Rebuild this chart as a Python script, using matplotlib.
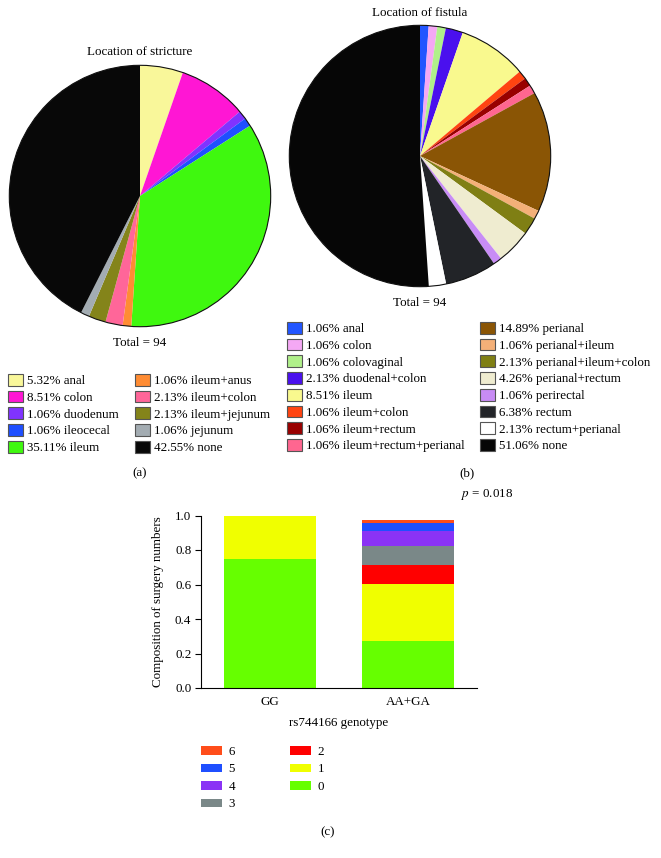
import matplotlib.pyplot as plt
from matplotlib.patches import Patch, Circle

plt.rcParams['font.family'] = ['Liberation Serif', 'DejaVu Serif']
plt.rcParams['mathtext.fontset'] = 'stix'

W, H = 661, 858

# (a) location of stricture
stricture_labels = ['anal', 'colon', 'duodenum', 'ileocecal', 'ileum',
                    'ileum+anus', 'ileum+colon', 'ileum+jejunum', 'jejunum', 'none']
stricture_pct = [5.32, 8.51, 1.06, 1.06, 35.11, 1.06, 2.13, 2.13, 1.06, 42.55]
stricture_colors = ['#f9f79a', '#ff16d4', '#8033ff', '#1f4fff', '#3ff80f',
                    '#ff8c33', '#ff6699', '#84841a', '#a3acb2', '#080808']

# (b) location of fistula
fistula_labels = ['anal', 'colon', 'colovaginal', 'duodenal+colon', 'ileum',
                  'ileum+colon', 'ileum+rectum', 'ileum+rectum+perianal',
                  'perianal', 'perianal+ileum', 'perianal+ileum+colon',
                  'perianal+rectum', 'perirectal', 'rectum', 'rectum+perianal', 'none']
fistula_pct = [1.06, 1.06, 1.06, 2.13, 8.51, 1.06, 1.06, 1.06,
               14.89, 1.06, 2.13, 4.26, 1.06, 6.38, 2.13, 51.06]
fistula_colors = ['#2255ff', '#f4a8f4', '#b0f08a', '#4a10ee', '#f9f98e',
                  '#ff4411', '#990000', '#ff6690', '#8a5505', '#f4b078',
                  '#7f7f14', '#efecd0', '#c88cf5', '#222428', '#ffffff', '#060606']

# (c) surgery numbers by genotype
genotypes = ['GG', 'AA+GA']
surgery_levels = ['0', '1', '2', '3', '4', '5', '6']
surgery_frac = {
    'GG':    [0.75, 0.25, 0.0, 0.0, 0.0, 0.0, 0.0],
    'AA+GA': [0.27, 0.335, 0.11, 0.11, 0.085, 0.048, 0.014],
}
surgery_colors = ['#66ff00', '#f0ff00', '#ff0000', '#7a8888', '#8a33f5', '#1f4fff', '#ff4d1a']


def box(x0, y0, w, h):
    return [x0 / W, 1 - (y0 + h) / H, w / W, h / H]


def ftext(x, y, s, **kw):
    fig.text(x / W, 1 - y / H, s, ha='center', va='center', **kw)


def column_legend(handles, labels, x, y, **kw):
    opts = dict(loc='upper left', bbox_to_anchor=(x / W, 1 - y / H), frameon=False,
                fontsize=9.4, handlelength=1.12, handleheight=1.0, handletextpad=0.3,
                labelspacing=0.26, borderaxespad=0, borderpad=0)
    opts.update(kw)
    return fig.legend(handles, labels, **opts)


fig = plt.figure(figsize=(W / 100, H / 100), dpi=100)


def draw_pie(pos, values, colors):
    ax = fig.add_axes(pos)
    ax.pie(values, colors=colors, startangle=90, counterclock=False,
           wedgeprops=dict(linewidth=0))
    ax.add_patch(Circle((0, 0), 1, fill=False, edgecolor='#111111', linewidth=0.8))
    ax.set_xlim(-1.01, 1.01)
    ax.set_ylim(-1.01, 1.01)
    return ax


draw_pie(box(8, 64, 264, 264), stricture_pct, stricture_colors)
draw_pie(box(288, 24, 264, 264), fistula_pct, fistula_colors)

ftext(140, 52, 'Location of stricture', fontsize=9.4)
ftext(140, 343, 'Total = 94', fontsize=9.4)
ftext(420, 13, 'Location of fistula', fontsize=9.4)
ftext(420, 303, 'Total = 94', fontsize=9.4)

# legends (a)
ha = [Patch(facecolor=c, edgecolor='#555555', linewidth=0.8) for c in stricture_colors]
la = ['%.2f%% %s' % (p, n) for p, n in zip(stricture_pct, stricture_labels)]
column_legend(ha[:5], la[:5], 8, 374)
column_legend(ha[5:], la[5:], 135, 374)
ftext(140, 473, '(a)', fontsize=9.4)

# legends (b)
hb = [Patch(facecolor=c, edgecolor='#555555', linewidth=0.8) for c in fistula_colors]
lb = ['%.2f%% %s' % (p, n) for p, n in zip(fistula_pct, fistula_labels)]
column_legend(hb[:8], lb[:8], 287, 322)
column_legend(hb[8:], lb[8:], 480, 322)
ftext(467, 473, '(b)', fontsize=9.4)

# bar chart (c)
ax = fig.add_axes(box(201, 515.5, 276, 172.5))
xs = range(len(genotypes))
bottoms = [0.0] * len(genotypes)
for i, lvl in enumerate(surgery_levels):
    vals = [surgery_frac[g][i] for g in genotypes]
    ax.bar(xs, vals, width=0.67, bottom=bottoms, color=surgery_colors[i],
           linewidth=0, label=lvl)
    bottoms = [bt + v for bt, v in zip(bottoms, vals)]
ax.set_xlim(-0.5, 1.5)
ax.set_ylim(0, 1.0)
ticks = [0, 0.2, 0.4, 0.6, 0.8, 1.0]
ax.set_yticks(ticks)
ax.set_yticklabels(['%.1f' % t for t in ticks], fontsize=9.4)
ax.set_xticks(list(xs))
ax.set_xticklabels(genotypes, fontsize=9.4)
ax.tick_params(axis='x', length=0, pad=6)
ax.tick_params(axis='y', length=4, width=0.8, pad=3)
for s in ['top', 'right']:
    ax.spines[s].set_visible(False)
for s in ['left', 'bottom']:
    ax.spines[s].set_linewidth(0.8)
ax.set_ylabel('Composition of surgery numbers', fontsize=9.4, labelpad=8)
ax.set_xlabel('rs744166 genotype', fontsize=9.4, labelpad=6)
ftext(487, 495, r'$p$ = 0.018', fontsize=9.4)

order = [6, 5, 4, 3, 2, 1, 0]
hc = [Patch(facecolor=surgery_colors[i], linewidth=0) for i in order]
lc = [surgery_levels[i] for i in order]
column_legend(hc[:4], lc[:4], 201, 746, handlelength=1.6, handleheight=0.6,
              labelspacing=0.42, handletextpad=0.5)
column_legend(hc[4:], lc[4:], 290, 746, handlelength=1.6, handleheight=0.6,
              labelspacing=0.42, handletextpad=0.5)
ftext(328, 832, '(c)', fontsize=9.4)

fig.savefig('out.png', dpi=100)
